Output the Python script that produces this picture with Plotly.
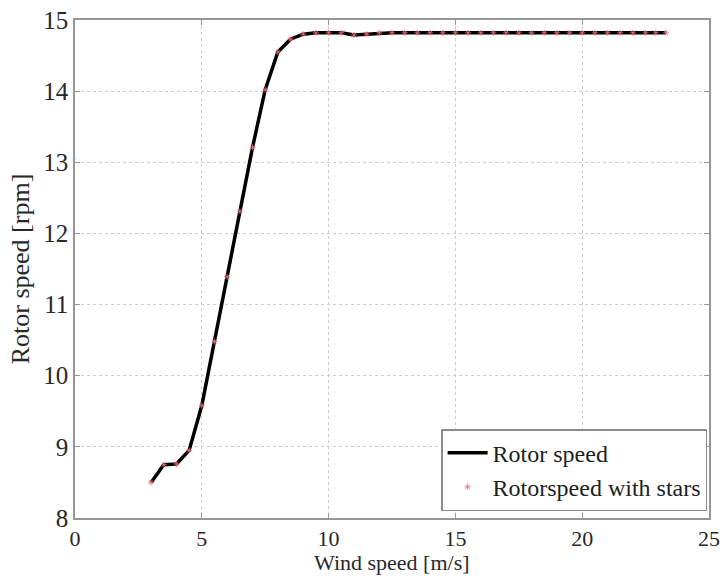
import plotly.graph_objects as go

wind_speed = [3.0, 3.5, 4.0, 4.5, 5.0, 5.5, 6.0, 6.5, 7.0, 7.5, 8.0, 8.5, 9.0, 9.5,
              10.0, 10.5, 11.0, 11.5, 12.0, 12.5, 13.0, 13.5, 14.0, 14.5, 15.0, 15.5,
              16.0, 16.5, 17.0, 17.5, 18.0, 18.5, 19.0, 19.5, 20.0, 20.5, 21.0, 21.5,
              22.0, 22.5, 22.9, 23.3]
rotor_speed = [8.50, 8.75, 8.76, 8.95, 9.58, 10.48, 11.39, 12.31, 13.21, 14.02, 14.55,
               14.73, 14.80, 14.82, 14.82, 14.82, 14.79, 14.80, 14.82, 14.82, 14.82,
               14.82, 14.82, 14.82, 14.82, 14.82, 14.82, 14.82, 14.82, 14.82, 14.82,
               14.82, 14.82, 14.82, 14.82, 14.82, 14.82, 14.82, 14.82, 14.82, 14.82, 14.82]
x_ticks = [0, 5, 10, 15, 20, 25]
y_ticks = [8, 9, 10, 11, 12, 13, 14, 15]

FONT = "Liberation Serif, Times New Roman, serif"

fig = go.Figure()
fig.add_trace(go.Scatter(
    x=wind_speed, y=rotor_speed, mode="lines", name="Rotor speed",
    line=dict(color="black", width=3.5),
))
fig.add_trace(go.Scatter(
    x=wind_speed, y=rotor_speed, mode="markers", name="Rotorspeed with stars",
    marker=dict(symbol="asterisk-open", size=5, color="rgba(230,110,120,0.8)",
                line=dict(color="rgba(230,110,120,0.8)", width=1)),
))

axis_common = dict(
    showline=True, mirror="ticks", linecolor="rgb(150,150,150)", linewidth=1.5,
    ticks="inside", ticklen=5, tickcolor="rgb(150,150,150)",
    showgrid=True, gridcolor="rgb(205,205,205)", griddash="dot", gridwidth=1,
    zeroline=False, automargin=False,
)

fig.update_layout(
    width=724, height=578,
    margin=dict(l=75, r=15, t=20, b=60),
    paper_bgcolor="white", plot_bgcolor="white",
    font=dict(family=FONT, size=24, color="rgb(40,40,40)"),
    showlegend=True,
    legend=dict(
        x=0.997, y=0.014, xanchor="right", yanchor="bottom",
        bgcolor="white", bordercolor="rgb(140,140,140)", borderwidth=1.5,
        font=dict(family=FONT, size=24, color="rgb(30,30,30)"),
        tracegroupgap=0, itemwidth=40,
    ),
    xaxis=dict(range=[0, 25], tickvals=x_ticks,
               tickfont=dict(family=FONT, size=22, color="rgb(40,40,40)"),
               **axis_common),
    yaxis=dict(range=[8, 15], tickvals=y_ticks,
               tickfont=dict(family=FONT, size=25, color="rgb(40,40,40)"),
               title=dict(text="Rotor speed [rpm]", standoff=6,
                          font=dict(family=FONT, size=26)),
               **axis_common),
    annotations=[dict(
        text="Wind speed [m/s]", xref="paper", yref="paper",
        x=0.5, y=-0.118, xanchor="center", yanchor="bottom",
        showarrow=False, font=dict(family=FONT, size=22, color="rgb(40,40,40)"),
    )],
)

fig.write_html("out.html")
